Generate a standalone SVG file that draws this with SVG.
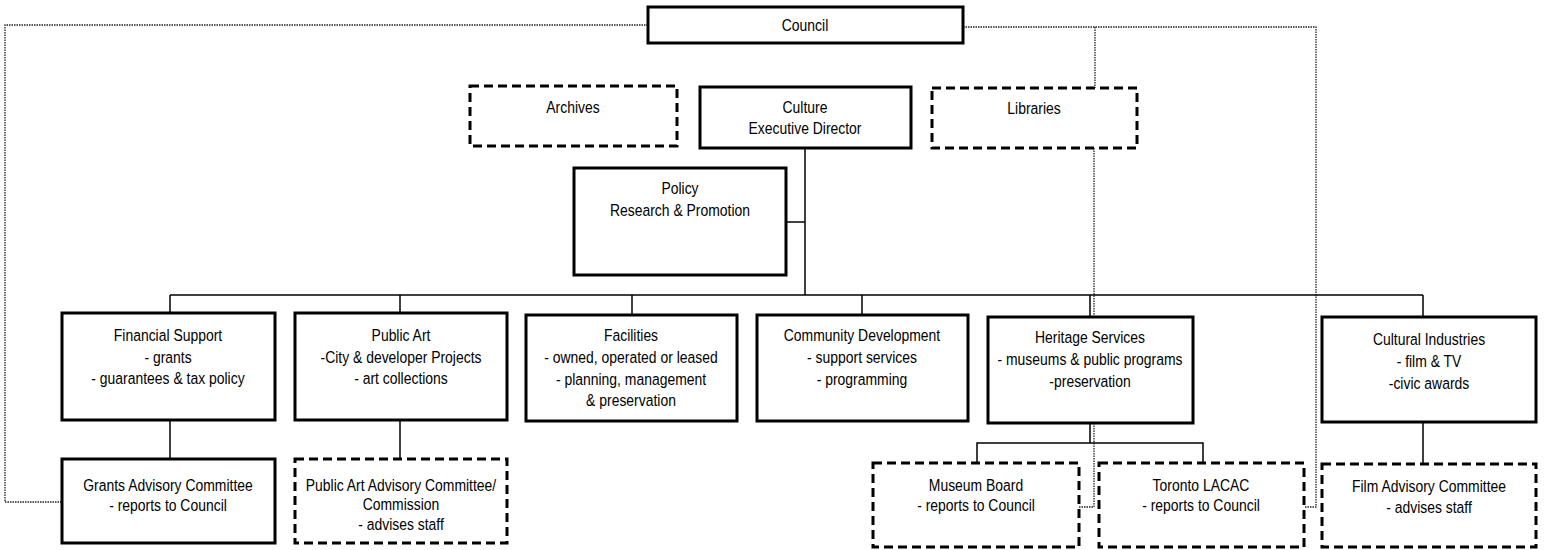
<svg xmlns="http://www.w3.org/2000/svg" width="1545" height="550" viewBox="0 0 1545 550">
<style>
.box{fill:#fff;stroke:#000;stroke-width:3}
.dbox{fill:#fff;stroke:#000;stroke-width:3;stroke-dasharray:9 5}
.conn{fill:none;stroke:#000;stroke-width:1.5}
.dot{fill:none;stroke:#222;stroke-width:1.3;stroke-dasharray:1.5 1}
text{font-family:"Liberation Sans",Arial,sans-serif;font-size:17px;fill:#000;text-anchor:middle}
</style>
<rect width="1545" height="550" fill="#fff"/>
<g id="connectors">
<path class="dot" d="M648,25 H5 V502 H62"/>
<path class="dot" d="M963,27 H1316 V507 H1304"/>
<path class="dot" d="M1095,27 V88"/>
<path class="dot" d="M1094,148 V507 H1079"/>
<path class="conn" d="M805,148 V295"/>
<path class="conn" d="M786,222 H805"/>
<path class="conn" d="M170,295 H1423"/>
<path class="conn" d="M170,295 V313 M400,295 V313 M632,295 V315 M862,295 V315 M1090,295 V317 M1423,295 V317"/>
<path class="conn" d="M170,420 V459 M400,420 V459 M1423,422 V464"/>
<path class="conn" d="M1090,423 V443 M977,463 V443 H1203 V463"/>
</g>
<g id="council"><rect class="box" x="648" y="7" width="315" height="36"/><text transform="translate(805 31) scale(.82 1)">Council</text></g>
<g id="archives"><rect class="dbox" x="470" y="86" width="207" height="60"/><text transform="translate(573 113) scale(.82 1)">Archives</text></g>
<g id="culture"><rect class="box" x="700" y="87" width="211" height="61"/><text transform="translate(805 113) scale(.82 1)">Culture</text><text transform="translate(805 134) scale(.82 1)">Executive Director</text></g>
<g id="libraries"><rect class="dbox" x="932" y="88" width="205" height="60"/><text transform="translate(1034 114) scale(.82 1)">Libraries</text></g>
<g id="policy"><rect class="box" x="574" y="168" width="212" height="107"/><text transform="translate(680 194) scale(.82 1)">Policy</text><text transform="translate(680 216) scale(.82 1)">Research &amp; Promotion</text></g>
<g id="financial"><rect class="box" x="62" y="313" width="213" height="107"/><text transform="translate(168 341) scale(.82 1)">Financial Support</text><text transform="translate(168 363) scale(.82 1)">- grants</text><text transform="translate(168 384) scale(.82 1)">- guarantees &amp; tax policy</text></g>
<g id="publicart"><rect class="box" x="295" y="313" width="212" height="107"/><text transform="translate(401 341) scale(.82 1)">Public Art</text><text transform="translate(401 363) scale(.82 1)">-City &amp; developer Projects</text><text transform="translate(401 384) scale(.82 1)">- art collections</text></g>
<g id="facilities"><rect class="box" x="526" y="315" width="211" height="106"/><text transform="translate(631 341) scale(.82 1)">Facilities</text><text transform="translate(631 363) scale(.82 1)">- owned, operated or leased</text><text transform="translate(631 385) scale(.82 1)">- planning, management</text><text transform="translate(631 406) scale(.82 1)">&amp; preservation</text></g>
<g id="community"><rect class="box" x="757" y="315" width="211" height="106"/><text transform="translate(862 341) scale(.82 1)">Community Development</text><text transform="translate(862 363) scale(.82 1)">- support services</text><text transform="translate(862 385) scale(.82 1)">- programming</text></g>
<g id="heritage"><rect class="box" x="988" y="317" width="205" height="106"/><text transform="translate(1090 343) scale(.82 1)">Heritage Services</text><text transform="translate(1090 365) scale(.82 1)">- museums &amp; public programs</text><text transform="translate(1090 387) scale(.82 1)">-preservation</text></g>
<g id="cultural"><rect class="box" x="1322" y="317" width="214" height="105"/><text transform="translate(1429 345) scale(.82 1)">Cultural Industries</text><text transform="translate(1429 367) scale(.82 1)">- film &amp; TV</text><text transform="translate(1429 389) scale(.82 1)">-civic awards</text></g>
<g id="grants"><rect class="box" x="62" y="459" width="213" height="84"/><text transform="translate(168 491) scale(.82 1)">Grants Advisory Committee</text><text transform="translate(168 511) scale(.82 1)">- reports to Council</text></g>
<g id="paac"><rect class="dbox" x="295" y="459" width="212" height="84"/><text transform="translate(401 491) scale(.82 1)">Public Art Advisory Committee/</text><text transform="translate(401 510) scale(.82 1)">Commission</text><text transform="translate(401 530) scale(.82 1)">- advises staff</text></g>
<g id="museum"><rect class="dbox" x="873" y="463" width="206" height="84"/><text transform="translate(976 491) scale(.82 1)">Museum Board</text><text transform="translate(976 511) scale(.82 1)">- reports to Council</text></g>
<g id="lacac"><rect class="dbox" x="1099" y="463" width="205" height="84"/><text transform="translate(1201 491) scale(.82 1)">Toronto LACAC</text><text transform="translate(1201 511) scale(.82 1)">- reports to Council</text></g>
<g id="film"><rect class="dbox" x="1322" y="464" width="214" height="83"/><text transform="translate(1429 492) scale(.82 1)">Film Advisory Committee</text><text transform="translate(1429 513) scale(.82 1)">- advises staff</text></g>
</svg>
